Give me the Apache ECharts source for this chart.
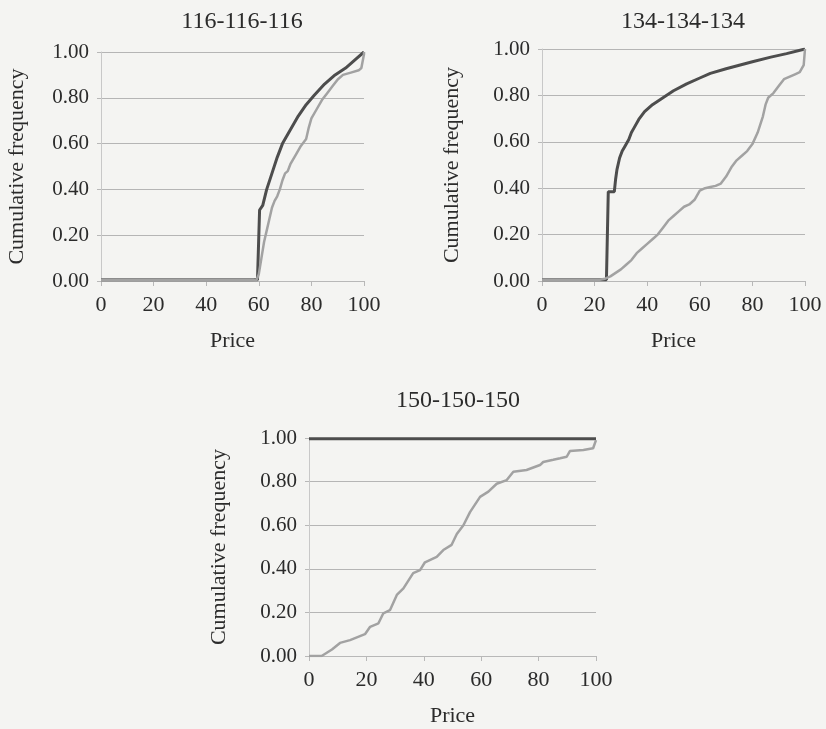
<!DOCTYPE html>
<html>
<head>
<meta charset="utf-8">
<script src="https://cdn.jsdelivr.net/npm/echarts@6/dist/echarts.min.js"></script>
<style>
  html, body { margin: 0; padding: 0; background: #f4f4f2; }
  #main { width: 826px; height: 729px; }
</style>
</head>
<body>
<div id="main"></div>
<script>
// panel titles
let titles = ["116-116-116", "134-134-134", "150-150-150"];
let xTicks = [0, 20, 40, 60, 80, 100];
let yTicks = [0, 0.2, 0.4, 0.6, 0.8, 1.0];

// [price, cumulative frequency]
let dark116 = [[0,0.005],[59.5,0.005],[60,0.01],[60.3,0.31],[61.5,0.33],[63,0.40],[65,0.47],[67,0.54],[69,0.60],
  [72,0.66],[75,0.72],[78,0.77],[81,0.81],[85,0.86],[89,0.90],[93,0.93],[97,0.97],[100,1.0]];
let light116 = [[0,0.005],[58,0.005],[59,0],[60,0.03],[61,0.10],[62,0.17],[63,0.22],[64,0.27],[65,0.32],[66,0.35],
  [67,0.37],[68,0.40],[69,0.44],[70,0.47],[71,0.48],[72,0.51],[74,0.55],[76,0.59],[78,0.62],[79,0.67],[80,0.71],
  [82,0.75],[84,0.79],[86,0.82],[88,0.85],[90,0.88],[92,0.90],[95,0.91],[98,0.92],[99,0.93],[100,0.99],[100,1.0]];

let dark134 = [[0,0.005],[24.5,0.005],[25,0.01],[25.2,0.385],[27.5,0.385],[28,0.44],[28.5,0.48],[29.5,0.53],
  [30.5,0.56],[31.5,0.58],[33,0.61],[34,0.64],[35,0.66],[37,0.70],[39,0.73],[42,0.76],[46,0.79],[50,0.82],
  [55,0.85],[60,0.875],[64,0.895],[70,0.915],[75,0.93],[80,0.945],[87,0.965],[93,0.98],[100,1.0]];
let light134 = [[0,0.005],[22,0.005],[24,0.01],[26,0.02],[28,0.035],[30,0.05],[32,0.07],[34,0.09],[36,0.12],
  [38,0.14],[40,0.16],[42,0.18],[44,0.20],[46,0.23],[48,0.26],[50,0.28],[52,0.30],[54,0.32],[56,0.33],[58,0.35],
  [60,0.39],[62,0.40],[64,0.405],[66,0.41],[68,0.42],[70,0.45],[72,0.49],[74,0.52],[76,0.54],[78,0.56],[80,0.59],
  [82,0.64],[84,0.71],[85,0.76],[86,0.79],[88,0.81],[90,0.84],[92,0.87],[94,0.88],[96,0.89],[98,0.90],
  [99.5,0.93],[100,1.0]];

let dark150 = [[0,0.997],[50,0.997],[100,0.997],[100,1.0]];
let light150 = [[0,0],[4.4,0],[8,0.03],[10.8,0.06],[14.3,0.073],[19.5,0.10],[21.3,0.134],[24.2,0.15],[25.9,0.196],
  [28.2,0.21],[30.6,0.28],[32.9,0.31],[36.3,0.38],[38.7,0.394],[40.4,0.43],[44.5,0.455],[46.8,0.486],[49.7,0.51],
  [51.5,0.56],[53.8,0.60],[56.1,0.66],[59.6,0.73],[62.5,0.754],[65.4,0.79],[68.9,0.807],[71.2,0.845],[75.8,0.853],
  [80.5,0.876],[81.6,0.89],[85.1,0.90],[87.5,0.907],[89.8,0.914],[90.9,0.94],[95.6,0.945],[99,0.953],[100,0.99]];

let serif = "Liberation Serif";
let textColor = "#2b2b2b";

let grids = [
  { left: 101, top: 52, width: 263, height: 229 },
  { left: 542, top: 49, width: 263, height: 232 },
  { left: 309, top: 438, width: 287, height: 218 },
];
let nameGaps = [73, 79, 79];

let chart = echarts.init(document.getElementById("main"));

let xAxes = grids.map((g, i) => ({
  gridIndex: i,
  type: "value",
  min: xTicks[0],
  max: xTicks[xTicks.length - 1],
  interval: 20,
  name: "Price",
  nameLocation: "middle",
  nameGap: 49,
  nameTextStyle: { fontFamily: serif, fontSize: 22, color: textColor },
  axisLine: { show: true, lineStyle: { color: "#b8b8b8", width: 1 } },
  axisTick: { show: true, length: 5, lineStyle: { color: "#b8b8b8" } },
  axisLabel: { fontFamily: serif, fontSize: 22, color: textColor, margin: 13 },
  splitLine: { show: false },
}));

let yAxes = grids.map((g, i) => ({
  gridIndex: i,
  type: "value",
  min: yTicks[0],
  max: yTicks[yTicks.length - 1],
  interval: 0.2,
  name: "Cumulative frequency",
  nameLocation: "middle",
  nameGap: nameGaps[i],
  nameTextStyle: { fontFamily: serif, fontSize: 22, color: textColor },
  axisLine: { show: true, lineStyle: { color: "#c8c8c8", width: 1 } },
  axisTick: { show: true, length: 4, lineStyle: { color: "#b8b8b8" } },
  axisLabel: { fontFamily: serif, fontSize: 21, color: textColor, margin: 12,
    formatter: (v) => v.toFixed(2) },
  splitLine: { show: true, lineStyle: { color: "#b5b5b5", width: 1 } },
}));

let pairs = [[dark116, light116], [dark134, light134], [dark150, light150]];
let series = [];
pairs.forEach((p, i) => {
  series.push({
    type: "line", xAxisIndex: i, yAxisIndex: i, data: p[0],
    showSymbol: false, lineStyle: { color: "#4d4d4d", width: 3 }, z: 3,
  });
  series.push({
    type: "line", xAxisIndex: i, yAxisIndex: i, data: p[1],
    showSymbol: false, lineStyle: { color: "#a2a2a2", width: 2.5 }, z: 4,
  });
});

let titleStyle = { fontFamily: serif, fontSize: 24, fontWeight: "normal", color: textColor };

let option = {
  backgroundColor: "#f4f4f2",
  animation: false,
  title: [
    { text: titles[0], left: 237, top: 5, textAlign: "center", textStyle: titleStyle },
    { text: titles[1], left: 678, top: 5, textAlign: "center", textStyle: titleStyle },
    { text: titles[2], left: 453, top: 384, textAlign: "center", textStyle: titleStyle },
  ],
  grid: grids,
  xAxis: xAxes,
  yAxis: yAxes,
  series: series,
};

chart.setOption(option);
</script>
</body>
</html>
